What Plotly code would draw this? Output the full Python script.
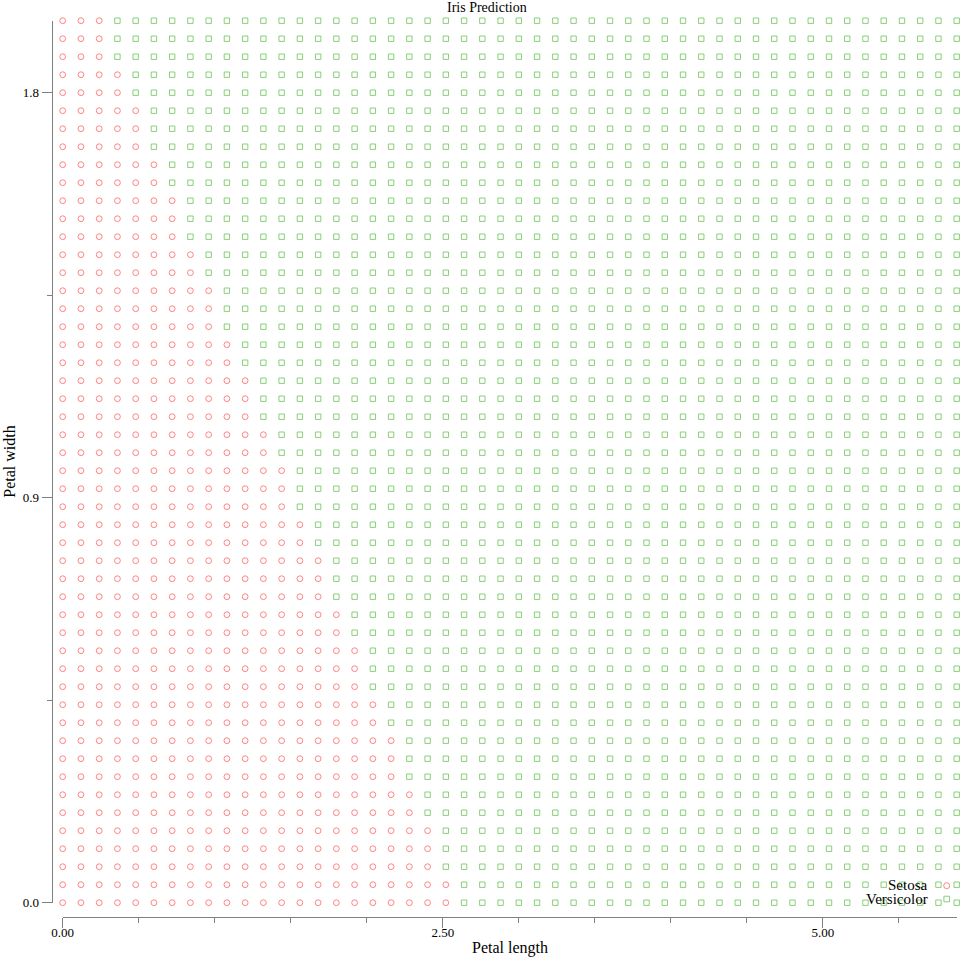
import plotly.graph_objects as go

# ---- data ----
petal_length_grid = [0.00, 0.12, 0.24, 0.36, 0.48, 0.60, 0.72, 0.84, 0.96, 1.08,
                     1.20, 1.32, 1.44, 1.56, 1.68, 1.80, 1.92, 2.04, 2.16, 2.28,
                     2.40, 2.52, 2.64, 2.76, 2.88, 3.00, 3.12, 3.24, 3.36, 3.48,
                     3.60, 3.72, 3.84, 3.96, 4.08, 4.20, 4.32, 4.44, 4.56, 4.68,
                     4.80, 4.92, 5.04, 5.16, 5.28, 5.40, 5.52, 5.64, 5.76, 5.88]
petal_width_grid = [0.00, 0.04, 0.08, 0.12, 0.16, 0.20, 0.24, 0.28, 0.32, 0.36,
                    0.40, 0.44, 0.48, 0.52, 0.56, 0.60, 0.64, 0.68, 0.72, 0.76,
                    0.80, 0.84, 0.88, 0.92, 0.96, 1.00, 1.04, 1.08, 1.12, 1.16,
                    1.20, 1.24, 1.28, 1.32, 1.36, 1.40, 1.44, 1.48, 1.52, 1.56,
                    1.60, 1.64, 1.68, 1.72, 1.76, 1.80, 1.84, 1.88, 1.92, 1.96]
# number of grid columns predicted "Setosa" in each row (bottom row first)
setosa_columns_per_row = [22, 22, 21, 21, 21, 20, 20, 19, 19, 19,
                          18, 18, 17, 17, 17, 16, 16, 15, 15, 15,
                          14, 14, 13, 13, 13, 12, 12, 11, 11, 11,
                          10, 10, 9, 9, 9, 8, 8, 7, 7, 7,
                          6, 6, 5, 5, 5, 4, 4, 3, 3, 3]
class_names = ["Setosa", "Versicolor"]
x_ticks = [0.0, 2.5, 5.0]
y_ticks = [0.0, 0.9, 1.8]

# ---- build predicted points ----
setosa_x, setosa_y, versi_x, versi_y = [], [], [], []
for row, w in enumerate(petal_width_grid):
    n = setosa_columns_per_row[row]
    for col, l in enumerate(petal_length_grid):
        if col < n:
            setosa_x.append(l); setosa_y.append(w)
        else:
            versi_x.append(l); versi_y.append(w)

RED = "rgba(255,110,110,0.85)"
GREEN = "rgba(110,195,90,0.8)"
AXIS = "#808080"
FONT = "Liberation Serif, Times New Roman, serif"
W = H = 960

def px(x):
    return x / W

def py(y):
    return 1 - y / H

fig = go.Figure()
fig.add_trace(go.Scatter(x=setosa_x, y=setosa_y, mode="markers", name=class_names[0],
                         cliponaxis=False, hoverinfo="skip",
                         marker=dict(symbol="circle-open", size=5.8, color=RED,
                                     line=dict(width=1, color=RED))))
fig.add_trace(go.Scatter(x=versi_x, y=versi_y, mode="markers", name=class_names[1],
                         cliponaxis=False, hoverinfo="skip",
                         marker=dict(symbol="square-open", size=5.4, color=GREEN,
                                     line=dict(width=1, color=GREEN))))

x_min, x_max = min(petal_length_grid), max(petal_length_grid)
y_min, y_max = min(petal_width_grid), max(petal_width_grid)

fig.update_layout(
    template="none",
    width=W, height=H,
    margin=dict(l=0, r=0, t=0, b=0, pad=0, autoexpand=False),
    paper_bgcolor="white", plot_bgcolor="white",
    showlegend=False,
    font=dict(family=FONT, size=13, color="black"),
    xaxis=dict(domain=[px(62.7), px(956.7)], range=[x_min, x_max],
               anchor="free", position=py(916.7), automargin=False,
               showline=True, linecolor=AXIS, linewidth=1,
               showgrid=False, zeroline=False,
               tickmode="array", tickvals=x_ticks, tickformat=".2f",
               ticks="outside", ticklen=10, tickcolor=AXIS, tickwidth=1,
               ticklabelstandoff=-6,
               tickfont=dict(family=FONT, size=13, color="black"),
               minor=dict(dtick=0.5, tick0=0, ticks="outside", ticklen=5,
                          tickcolor=AXIS, tickwidth=1, showgrid=False)),
    yaxis=dict(domain=[py(902.7), py(20.7)], range=[y_min, y_max],
               anchor="free", position=px(51.7), automargin=False,
               showline=True, linecolor=AXIS, linewidth=1,
               showgrid=False, zeroline=False,
               tickmode="array", tickvals=y_ticks, tickformat=".1f",
               ticks="outside", ticklen=10, tickcolor=AXIS, tickwidth=1,
               tickfont=dict(family=FONT, size=13, color="black"),
               minor=dict(dtick=0.45, tick0=0, ticks="outside", ticklen=5,
                          tickcolor=AXIS, tickwidth=1, showgrid=False)),
)

annotations = [
    dict(text="Iris Prediction", x=px(487), y=py(8), xref="paper", yref="paper",
         xanchor="center", yanchor="middle", showarrow=False,
         font=dict(family=FONT, size=14, color="black")),
    dict(text="Petal length", x=px(509.5), y=py(948), xref="paper", yref="paper",
         xanchor="center", yanchor="middle", showarrow=False,
         font=dict(family=FONT, size=16, color="black")),
    dict(text="Petal width", x=px(10), y=py(461.7), xref="paper", yref="paper",
         xanchor="center", yanchor="middle", showarrow=False, textangle=-90,
         font=dict(family=FONT, size=16, color="black")),
    dict(text=class_names[0], x=px(930), y=py(884.5), xref="paper", yref="paper",
         xanchor="right", yanchor="middle", showarrow=False,
         font=dict(family=FONT, size=15, color="black")),
    dict(text=class_names[1], x=px(930), y=py(898.5), xref="paper", yref="paper",
         xanchor="right", yanchor="middle", showarrow=False,
         font=dict(family=FONT, size=15, color="black")),
]
fig.update_layout(annotations=annotations)

fig.update_layout(shapes=[
    dict(type="circle", xref="paper", yref="paper",
         x0=px(946.7 - 3), x1=px(946.7 + 3), y0=py(885.7 + 3), y1=py(885.7 - 3),
         line=dict(color=RED, width=1)),
    dict(type="rect", xref="paper", yref="paper",
         x0=px(946.7 - 2.8), x1=px(946.7 + 2.8), y0=py(899 + 2.8), y1=py(899 - 2.8),
         line=dict(color=GREEN, width=1)),
])

fig.write_html("out.html",
               config={"displayModeBar": False, "staticPlot": True},
               post_script="document.body.style.margin='0';document.body.style.overflow='hidden';")
